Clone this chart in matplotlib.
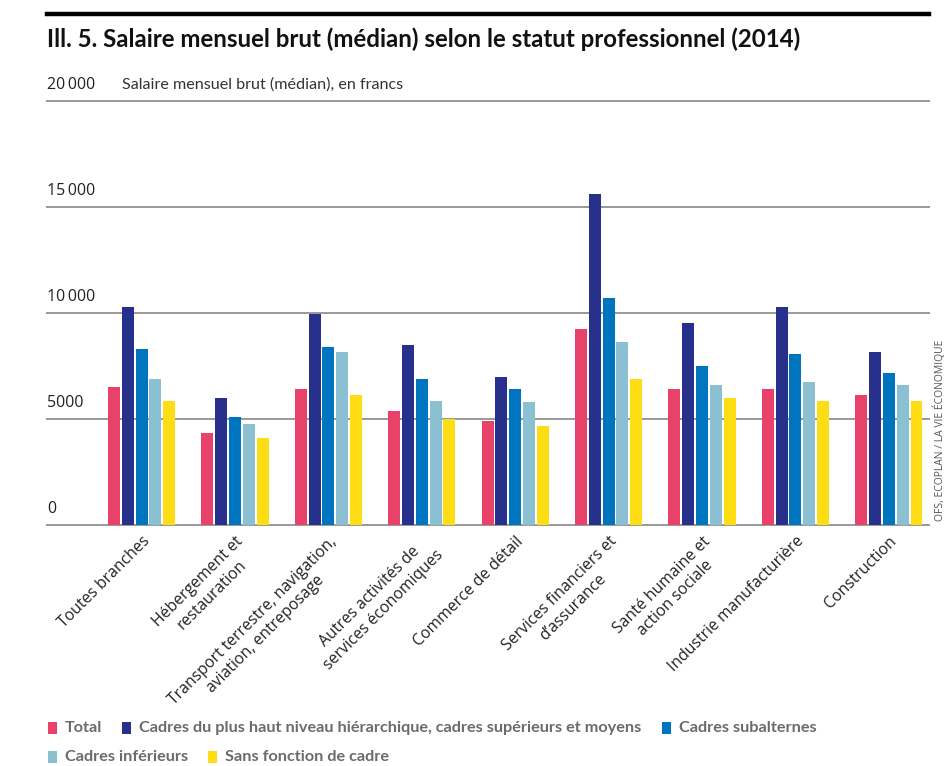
import matplotlib
matplotlib.use('Agg')
import matplotlib.pyplot as plt
import numpy as np
from matplotlib.patches import Rectangle
from matplotlib.lines import Line2D
from matplotlib import transforms

# ---------------- data ----------------
categories = [
    "Toutes branches",
    "Hébergement et\nrestauration",
    "Transport terrestre, navigation,\naviation, entreposage",
    "Autres activités de\nservices économiques",
    "Commerce de détail",
    "Services financiers et\nd’assurance",
    "Santé humaine et\naction sociale",
    "Industrie manufacturière",
    "Construction",
]
series_names = [
    "Total",
    "Cadres du plus haut niveau hiérarchique, cadres supérieurs et moyens",
    "Cadres subalternes",
    "Cadres inférieurs",
    "Sans fonction de cadre",
]
total = [6500, 4350, 6400, 5400, 4900, 9250, 6400, 6400, 6150]
cadres_sup = [10300, 6000, 9950, 8500, 7000, 15600, 9550, 10300, 8150]
cadres_sub = [8300, 5100, 8400, 6900, 6400, 10700, 7500, 8050, 7150]
cadres_inf = [6900, 4750, 8150, 5850, 5800, 8650, 6600, 6750, 6600]
sans_fonction = [5850, 4100, 6150, 5000, 4650, 6900, 6000, 5850, 5850]
series_values = [total, cadres_sup, cadres_sub, cadres_inf, sans_fonction]
colors = ["#E8426A", "#27318B", "#0075BF", "#8BC0D3", "#FFDD15"]
yticks = [0, 5000, 10000, 15000, 20000]
ytick_labels = ["0", "5000", "10\u2009000", "15\u2009000", "20\u2009000"]
title = "Ill. 5. Salaire mensuel brut (médian) selon le statut professionnel (2014)"
ylabel = "Salaire mensuel brut (médian), en francs"
source = "OFS, ECOPLAN / LA VIE ÉCONOMIQUE"

NARROW = ["Lato", "DejaVu Sans"]
SANS = ["Open Sans", "Lato", "DejaVu Sans"]

W, H = 948, 766
fig = plt.figure(figsize=(W / 100, H / 100), dpi=100)
fig.patch.set_facecolor("white")

ax = fig.add_axes([47 / W, 1 - 525 / H, (929 - 47) / W, (525 - 101) / H])
ax.set_ylim(0, 20000)
ax.set_xlim(-1.012, 8.43)
for s in ax.spines.values():
    s.set_visible(False)

for v in yticks:
    ax.axhline(v, color="#999999", lw=1.4, zorder=1, clip_on=False)

x = np.arange(len(categories))
step, width = 0.148, 0.128
for k, (vals, c) in enumerate(zip(series_values, colors)):
    ax.bar(x + (k - 2) * step, vals, width=width, color=c, zorder=3, linewidth=0)

# y tick labels above gridlines
off = transforms.ScaledTranslation(0, 0.12, fig.dpi_scale_trans)
bt = transforms.blended_transform_factory(ax.transAxes, ax.transData)
for v, lab in zip(yticks, ytick_labels):
    ax.text(0, v, lab, transform=bt + off, ha="left", va="baseline",
            fontsize=11.5, color="#222222", family=SANS)
ax.text((122 - 47) / (929 - 47), 20000, ylabel, transform=bt + off, ha="left",
        va="baseline", fontsize=11.6, color="#333333", family=NARROW)

ax.set_yticks([])
ax.set_xticks(x)
ax.set_xticklabels(categories, rotation=45, ha="right", rotation_mode="anchor",
                   fontsize=11.3, color="#222222", family=SANS)
for lbl in ax.get_xticklabels():
    lbl.set_multialignment("center")
    lbl.set_linespacing(1.25)
ax.tick_params(axis="x", length=0, pad=6)

# title & top rule
fig.add_artist(Line2D([47 / W, 929 / W], [1 - 14 / H] * 2, color="black", lw=3.2))
fig.text(47 / W, 1 - 47 / H, title, fontsize=17.3, weight="bold", color="#111111",
         va="baseline", ha="left", family=NARROW)

# source
fig.text(940 / W, 1 - 521 / H, source, rotation=90, ha="center", va="bottom",
         fontsize=7.5, color="#555555", family=SANS)

# legend (manual)
fig.canvas.draw()
renderer = fig.canvas.get_renderer()
rows = [[0, 1, 2], [3, 4]]
row_y = [728, 757]
for r, idxs in zip(row_y, rows):
    cx = 48
    for i in idxs:
        fig.add_artist(Rectangle((cx / W, 1 - (r + 6) / H), 9 / W, 12 / H,
                                 transform=fig.transFigure, color=colors[i], lw=0))
        t = fig.text((cx + 17) / W, 1 - r / H, series_names[i], fontsize=11.7,
                     weight="bold", color="#6b6b6b", va="center", ha="left",
                     family=NARROW)
        bb = t.get_window_extent(renderer)
        cx = bb.x1 + 20

fig.savefig("out.png", dpi=100, facecolor="white")
